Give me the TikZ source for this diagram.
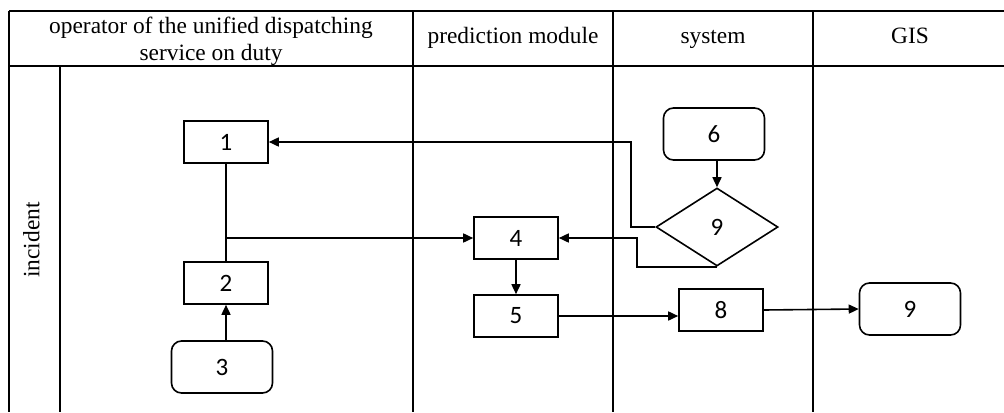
\documentclass[tikz,border=0pt]{standalone}
\usepackage{fontspec}
\setmainfont{Liberation Serif}
\newfontfamily\numfont{Carlito}
\usetikzlibrary{shapes.geometric,arrows.meta}
\tikzset{
  lane/.style={line width=0.7pt},
  stepbox/.style={draw, line width=0.8pt, minimum width=42pt, minimum height=21pt, inner sep=0pt, font=\numfont\fontsize{12.5}{12.5}\selectfont},
  roundbox/.style={stepbox, rounded corners=5pt, minimum width=50.5pt, minimum height=26pt},
  choice/.style={draw, diamond, line width=0.8pt, minimum width=61pt, minimum height=39pt, inner sep=0pt, font=\numfont\fontsize{12.5}{12.5}\selectfont},
  flow/.style={line width=0.8pt, -{Triangle[length=5pt,width=4.5pt]}},
  head/.style={font=\fontsize{11.7}{13.5}\selectfont, align=center, text height=0.7em, text depth=0.25em}
}
\begin{document}
\begin{tikzpicture}[x=0.5pt, y=-0.5pt]
  \useasboundingbox (0,0) rectangle (1004,412);

  % Draw the lanes
  \draw[lane] (9,11) -- (1004,11);
  \draw[lane] (9,66) -- (1004,66);
  \draw[lane] (9,11) -- (9,412);
  \draw[lane] (60,66) -- (60,412);
  \draw[lane] (413,11) -- (413,412);
  \draw[lane] (613,11) -- (613,412);
  \draw[lane] (813,11) -- (813,412);

  % Lane headings
  \node[head, text height=, text depth=] (hoper) at (211,41) {operator of the unified dispatching\\service on duty};
  \node[head] (hpred) at (513,39) {prediction module};
  \node[head] (hsys) at (713,39) {system};
  \node[head] (hgis) at (910,39) {GIS};
  \node[head, rotate=90] (hinc) at (35,240) {incident};

  % Steps
  \node[stepbox] (b1) at (226,142) {1};
  \node[stepbox] (b2) at (226,283) {2};
  \node[roundbox] (b3) at (222,367) {3};
  \node[stepbox] (b4) at (516,238) {4};
  \node[stepbox] (b5) at (516,316) {5};
  \node[roundbox] (b6) at (714,134) {6};
  \node[choice] (d9) at (717,227) {9};
  \node[stepbox] (b8) at (721,310) {8};
  \node[roundbox] (g9) at (910,309) {9};

  % Connectors
  \draw[line width=0.8pt] (b1.south) -- (b2.north);
  \draw[flow] (b1.south |- b4.west) -- (b4.west);
  \draw[flow] (b3.north -| b2.south) -- (b2.south);
  \draw[flow] (b6.south -| d9.north) -- (d9.north);
  \draw[flow] (d9.west) -- ++(-24,0) |- (b1.east);
  \draw[flow] (d9.south) -- ++(-80,0) |- (b4.east);
  \draw[flow] (b4.south) -- (b5.north);
  \draw[flow] (b5.east) -- (b5.east -| b8.west);
  \draw[flow] (b8.east) -- (g9.west);
\end{tikzpicture}
\end{document}
